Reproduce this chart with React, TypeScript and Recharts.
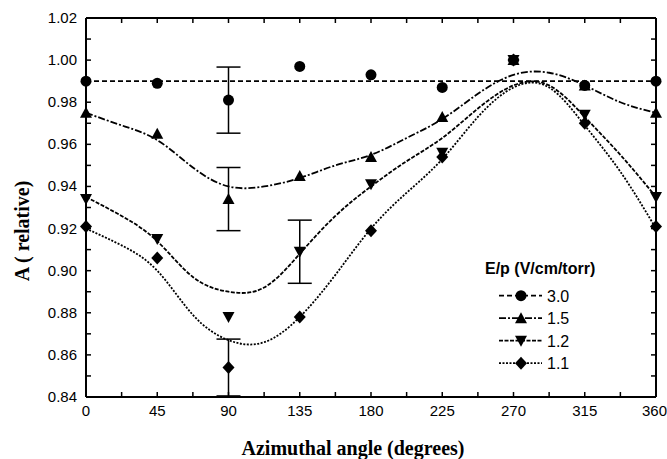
import React from "react";
import { CartesianGrid, ComposedChart, ErrorBar, Label, Legend, Line, Scatter, XAxis, YAxis } from "recharts";

// measured points
const angles = [0, 45, 90, 135, 180, 225, 270, 315, 360];
const val30 = [0.99, 0.989, 0.981, 0.997, 0.993, 0.987, 1.0, 0.988, 0.99];
const val15 = [0.975, 0.965, 0.934, 0.945, 0.954, 0.973, 1.0, 0.988, 0.975];
const val12 = [0.934, 0.915, 0.878, 0.909, 0.941, 0.956, 1.0, 0.974, 0.935];
const val11 = [0.921, 0.906, 0.854, 0.878, 0.919, 0.954, 1.0, 0.97, 0.921];

// error bars (only one per series)
const err30 = [null, null, 0.0157, null, null, null, null, null, null];
const err15 = [null, null, 0.015, null, null, null, null, null, null];
const err12 = [null, null, null, 0.015, null, null, null, null, null];
const err11 = [null, null, 0.0135, null, null, null, null, null, null];

// fitted curves
const fitAngles30 = [0, 360];
const fit30 = [0.99, 0.99];
const fitAngles = [0, 22.5, 45, 67.5, 90, 112.5, 135, 157.5, 180, 202.5, 225, 247.5, 270, 292.5, 315, 337.5, 360];
const fit15 = [0.975, 0.969, 0.962, 0.949, 0.94, 0.94, 0.944, 0.95, 0.955, 0.963, 0.972, 0.984, 0.993, 0.994, 0.988, 0.98, 0.975];
const fit12 = [0.935, 0.926, 0.914, 0.897, 0.89, 0.892, 0.908, 0.926, 0.94, 0.952, 0.963, 0.977, 0.988, 0.988, 0.973, 0.955, 0.935];
const fit11 = [0.92, 0.912, 0.9, 0.879, 0.867, 0.866, 0.878, 0.898, 0.92, 0.937, 0.953, 0.973, 0.987, 0.987, 0.969, 0.947, 0.92];

const xTicks = [0, 22.5, 45, 67.5, 90, 112.5, 135, 157.5, 180, 202.5, 225, 247.5, 270, 292.5, 315, 337.5, 360];
const yTicks = [0.84, 0.85, 0.86, 0.87, 0.88, 0.89, 0.9, 0.91, 0.92, 0.93, 0.94, 0.95, 0.96, 0.97, 0.98, 0.99, 1.0, 1.01, 1.02];

const INK = "#000";
const SANS = "'Liberation Sans', Arial, sans-serif";
const SERIF = "'Liberation Serif', 'Times New Roman', serif";

const groups = [
  { name: "3.0", angles, values: val30, errors: err30, fitX: fitAngles30, fit: fit30, shape: "circle", dash: "5 3" },
  { name: "1.5", angles, values: val15, errors: err15, fitX: fitAngles, fit: fit15, shape: "up", dash: "7 2 2 2" },
  { name: "1.2", angles, values: val12, errors: err12, fitX: fitAngles, fit: fit12, shape: "down", dash: "4 1.5" },
  { name: "1.1", angles, values: val11, errors: err11, fitX: fitAngles, fit: fit11, shape: "diamond", dash: "2 1.5" },
];

function Marker({ kind, cx, cy }: { kind: string; cx: number; cy: number }) {
  if (cx == null || cy == null) return null;
  if (kind === "circle") return <circle cx={cx} cy={cy} r={5.5} fill={INK} />;
  if (kind === "up")
    return <polygon points={`${cx - 6},${cy + 5} ${cx + 6},${cy + 5} ${cx},${cy - 6}`} fill={INK} />;
  if (kind === "down")
    return <polygon points={`${cx - 6},${cy - 5} ${cx + 6},${cy - 5} ${cx},${cy + 6}`} fill={INK} />;
  return <polygon points={`${cx},${cy - 6.5} ${cx + 6},${cy} ${cx},${cy + 6.5} ${cx - 6},${cy}`} fill={INK} />;
}

const isMajorX = (v: number) => v % 45 === 0;
const isMajorY = (v: number) => Math.round(v * 100) % 2 === 0;

// labels only; the tick marks themselves are the built-in tick lines (negative size = inward)
function BottomTick(p: any) {
  if (!isMajorX(p.payload.value)) return <g />;
  const last = p.payload.value === 360;
  return (
    <text
      x={last ? p.x + 11 : p.x}
      y={p.y + 18.5}
      textAnchor={last ? "end" : "middle"}
      fontFamily={SANS}
      fontSize={15}
      fill={INK}
    >
      {p.payload.value}
    </text>
  );
}

function LeftTick(p: any) {
  if (!isMajorY(p.payload.value)) return <g />;
  return (
    <text x={p.x - 9} y={p.y + 5} textAnchor="end" fontFamily={SANS} fontSize={15} fill={INK}>
      {p.payload.value.toFixed(2)}
    </text>
  );
}

const NoTick = () => <g />;

function LegendBox() {
  return (
    <svg width={150} height={120} style={{ display: "block" }}>
      <text x={7} y={15.5} fontFamily={SANS} fontWeight="bold" fontSize={16} fill={INK}>
        E/p (V/cm/torr)
      </text>
      {groups.map((g, i) => {
        const y = 37.7 + i * 22.5;
        return (
          <g key={g.name}>
            <line x1={21} x2={64} y1={y} y2={y} stroke={INK} strokeWidth={1.8} strokeDasharray={g.dash} />
            <Marker kind={g.shape} cx={43} cy={y} />
            <text x={69} y={y + 6} fontFamily={SANS} fontSize={16} fill={INK}>
              {g.name}
            </text>
          </g>
        );
      })}
    </svg>
  );
}

export default function App() {
  const axisLine = { stroke: INK, strokeWidth: 2 };
  const tickLine = { stroke: INK, strokeWidth: 1.5 };
  return (
    <div style={{ position: "absolute", left: 0, top: 0, background: "#fff" }}>
      <ComposedChart width={667} height={459} margin={{ top: 0, right: 0, bottom: 0, left: 0 }}>
        {/* plot frame */}
        <CartesianGrid
          xAxisId="b"
          yAxisId="l"
          stroke={INK}
          strokeWidth={2}
          horizontalCoordinatesGenerator={(a: any) => (a && a.offset ? [a.offset.top, a.offset.top + a.offset.height] : [])}
          verticalCoordinatesGenerator={(a: any) => (a && a.offset ? [a.offset.left, a.offset.left + a.offset.width] : [])}
        />
        <XAxis
          xAxisId="b"
          dataKey="angle"
          type="number"
          domain={[0, 360]}
          ticks={xTicks}
          interval={0}
          height={62}
          tickSize={-5}
          tickMargin={5}
          tickLine={tickLine}
          tick={BottomTick}
          axisLine={axisLine}
        >
          <Label
            content={() => (
              <text x={353} y={455} textAnchor="middle" fontFamily={SERIF} fontWeight="bold" fontSize={20} fill={INK}>
                Azimuthal angle (degrees)
              </text>
            )}
          />
        </XAxis>
        <XAxis
          xAxisId="t"
          orientation="top"
          dataKey="angle"
          type="number"
          domain={[0, 360]}
          ticks={xTicks}
          interval={0}
          height={18}
          tickSize={-5}
          tickLine={tickLine}
          tick={NoTick}
          axisLine={axisLine}
        />
        <YAxis
          yAxisId="l"
          type="number"
          domain={[0.84, 1.02]}
          ticks={yTicks}
          interval={0}
          width={86}
          tickSize={-5}
          tickMargin={5}
          tickLine={tickLine}
          tick={LeftTick}
          axisLine={axisLine}
        >
          <Label
            content={() => (
              <text
                x={29}
                y={231}
                transform="rotate(-90 29 231)"
                textAnchor="middle"
                fontFamily={SERIF}
                fontWeight="bold"
                fontSize={20}
                fill={INK}
              >
                A ( relative)
              </text>
            )}
          />
        </YAxis>
        <YAxis
          yAxisId="r"
          orientation="right"
          type="number"
          domain={[0.84, 1.02]}
          ticks={yTicks}
          interval={0}
          width={11}
          tickSize={-5}
          tickLine={tickLine}
          tick={NoTick}
          axisLine={axisLine}
        />
        {/* fitted curves on the top/right axes, which share the bottom/left domains */}
        {groups.map((g) => (
          <Line
            key={"fit" + g.name}
            xAxisId="t"
            yAxisId="r"
            data={g.fitX.map((a, i) => ({ angle: a, fit: g.fit[i] }))}
            dataKey="fit"
            type="natural"
            stroke={INK}
            strokeWidth={1.8}
            strokeDasharray={g.dash}
            dot={false}
            activeDot={false}
            isAnimationActive={false}
          />
        ))}
        {groups.map((g) => (
          <Scatter
            key={"pts" + g.name}
            xAxisId="b"
            yAxisId="l"
            data={g.angles.map((a, i) => ({ angle: a, value: g.values[i], err: g.errors[i] }))}
            dataKey="value"
            shape={(p: any) => <Marker kind={g.shape} cx={p.cx} cy={p.cy} />}
            isAnimationActive={false}
          >
            <ErrorBar dataKey="err" direction="y" width={12} stroke={INK} strokeWidth={1.5} />
          </Scatter>
        ))}
        <Legend
          layout="vertical"
          align="center"
          verticalAlign="middle"
          wrapperStyle={{ left: 478, top: 258, width: 150 }}
          content={() => <LegendBox />}
        />
      </ComposedChart>
    </div>
  );
}
